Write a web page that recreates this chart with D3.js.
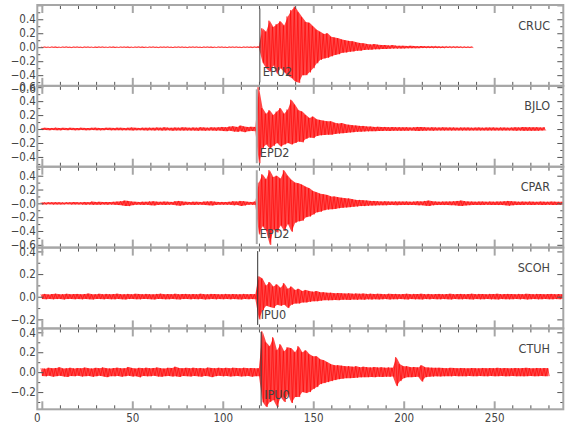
<!DOCTYPE html>
<html><head><meta charset="utf-8">
<script src="https://cdn.jsdelivr.net/npm/d3@7"></script>
<style>
body{margin:0;background:#fff}
text{font-family:"Liberation Sans Narrow","Arial Narrow","DejaVu Sans Condensed",sans-serif;fill:#444}
</style>
</head><body><svg id="c" width="580" height="440"></svg>
<script>
// ---------- data ----------
const stations = ["CRUC","BJLO","CPAR","SCOH","CTUH"];
const phases = ["EPU2","EPD2","EPD2","IPU0","IPU0"];
const pickTimes = [120.5,118.8,118.8,119.3,121.2];
const sampleStep = 2; // seconds between envelope samples (t = 0, 2, 4, ...)
const xDomain = [-2.5, 288.2];
const xTickLabels = [0,50,100,150,200,250];
const yDomains = [[-0.553,0.604],[-0.54,0.619],[-0.64,0.53],[-0.28,0.434],[-0.373,0.439]];
const yTickValues = [[-0.6,-0.4,-0.2,0,0.2,0.4],[-0.4,-0.2,0,0.2,0.4,0.6],[-0.6,-0.4,-0.2,0,0.2,0.4],[-0.2,0,0.2,0.4],[-0.2,0,0.2,0.4]];
const yTickTexts = [["−0.6","−0.4","−0.2","0.0","0.2","0.4"],["−0.4","−0.2","0.0","0.2","0.4","0.6"],["−0.6","−0.4","−0.2","−0.0","0.2","0.4"],["−0.2","0.0","0.2","0.4"],["−0.2","0.0","0.2","0.4"]];

// upper / lower envelopes of each trace, read every 2 s
const crucHi = [
0.004,0.005,0.004,0.006,0.005,0.004,0.005,0.006,0.004,0.005,
0.005,0.004,0.006,0.005,0.004,0.005,0.006,0.005,0.004,0.005,
0.006,0.004,0.005,0.005,0.006,0.004,0.005,0.006,0.005,0.004,
0.005,0.006,0.004,0.005,0.005,0.006,0.004,0.005,0.006,0.005,
0.004,0.005,0.006,0.005,0.004,0.006,0.005,0.005,0.004,0.006,
0.005,0.004,0.006,0.005,0.005,0.004,0.006,0.005,0.005,0.006,
0.01,0.27,0.22,0.38,0.29,0.33,0.37,0.31,0.44,0.53,
0.58,0.5,0.43,0.36,0.35,0.3,0.25,0.22,0.19,0.2,
0.15,0.14,0.13,0.11,0.1,0.09,0.085,0.07,0.06,0.055,
0.045,0.04,0.045,0.035,0.03,0.03,0.025,0.03,0.022,0.02,
0.02,0.018,0.02,0.016,0.015,0.017,0.014,0.013,0.012,0.013,
0.011,0.01,0.011,0.01,0.009,0.009,0.008,0.008,0.007,0.006];
const crucLo = [
-0.004,-0.005,-0.005,-0.004,-0.006,-0.005,-0.004,-0.005,-0.006,-0.004,
-0.005,-0.006,-0.004,-0.005,-0.005,-0.006,-0.004,-0.005,-0.005,-0.004,
-0.006,-0.005,-0.004,-0.005,-0.006,-0.005,-0.004,-0.005,-0.006,-0.005,
-0.004,-0.005,-0.006,-0.004,-0.005,-0.005,-0.006,-0.004,-0.005,-0.005,
-0.006,-0.004,-0.005,-0.005,-0.006,-0.004,-0.005,-0.006,-0.005,-0.004,
-0.005,-0.006,-0.004,-0.005,-0.005,-0.006,-0.004,-0.005,-0.006,-0.005,
-0.01,-0.22,-0.3,-0.35,-0.26,-0.38,-0.3,-0.36,-0.41,-0.44,
-0.49,-0.51,-0.4,-0.4,-0.36,-0.3,-0.23,-0.18,-0.16,-0.15,
-0.13,-0.11,-0.1,-0.08,-0.075,-0.065,-0.06,-0.05,-0.05,-0.04,
-0.035,-0.035,-0.03,-0.03,-0.025,-0.025,-0.022,-0.02,-0.02,-0.018,
-0.017,-0.016,-0.015,-0.015,-0.014,-0.013,-0.012,-0.012,-0.011,-0.011,
-0.01,-0.01,-0.009,-0.009,-0.008,-0.008,-0.007,-0.007,-0.006,-0.006];

const bjloHi = [
0.015,0.018,0.014,0.016,0.02,0.015,0.017,0.014,0.018,0.016,
0.015,0.019,0.016,0.014,0.018,0.02,0.016,0.015,0.019,0.017,
0.016,0.02,0.018,0.015,0.019,0.022,0.017,0.016,0.02,0.018,
0.02,0.018,0.022,0.019,0.025,0.02,0.018,0.022,0.02,0.024,
0.021,0.019,0.023,0.02,0.026,0.022,0.02,0.025,0.021,0.024,
0.03,0.025,0.035,0.04,0.03,0.05,0.035,0.028,0.032,0.03,
0.6,0.3,0.22,0.27,0.2,0.25,0.3,0.22,0.28,0.42,
0.35,0.27,0.25,0.2,0.16,0.18,0.14,0.13,0.12,0.11,
0.11,0.09,0.08,0.085,0.07,0.06,0.055,0.05,0.045,0.045,
0.035,0.035,0.03,0.032,0.028,0.03,0.026,0.028,0.025,0.027,
0.024,0.026,0.023,0.025,0.03,0.028,0.024,0.022,0.025,0.023,
0.022,0.024,0.021,0.023,0.022,0.02,0.023,0.021,0.022,0.02,
0.021,0.023,0.02,0.022,0.021,0.023,0.02,0.022,0.021,0.02,
0.022,0.025,0.023,0.028,0.025,0.027,0.024,0.026,0.022,0.024];
const bjloLo = [
-0.015,-0.014,-0.017,-0.015,-0.016,-0.019,-0.014,-0.016,-0.015,-0.018,
-0.016,-0.015,-0.018,-0.016,-0.015,-0.017,-0.019,-0.016,-0.015,-0.018,
-0.017,-0.016,-0.019,-0.018,-0.016,-0.02,-0.018,-0.017,-0.019,-0.02,
-0.018,-0.021,-0.019,-0.022,-0.02,-0.019,-0.023,-0.02,-0.021,-0.022,
-0.02,-0.022,-0.021,-0.024,-0.02,-0.023,-0.022,-0.021,-0.024,-0.022,
-0.028,-0.03,-0.025,-0.035,-0.04,-0.032,-0.045,-0.03,-0.028,-0.03,
-0.49,-0.27,-0.22,-0.28,-0.24,-0.2,-0.25,-0.22,-0.2,-0.22,
-0.2,-0.18,-0.19,-0.14,-0.12,-0.13,-0.1,-0.09,-0.085,-0.08,
-0.08,-0.07,-0.065,-0.06,-0.055,-0.05,-0.045,-0.04,-0.038,-0.035,
-0.033,-0.03,-0.03,-0.028,-0.027,-0.026,-0.028,-0.025,-0.024,-0.026,
-0.023,-0.025,-0.022,-0.024,-0.027,-0.025,-0.023,-0.022,-0.024,-0.021,
-0.021,-0.022,-0.02,-0.022,-0.021,-0.02,-0.022,-0.02,-0.021,-0.02,
-0.02,-0.021,-0.02,-0.022,-0.02,-0.021,-0.02,-0.021,-0.02,-0.02,
-0.021,-0.024,-0.022,-0.026,-0.024,-0.025,-0.023,-0.024,-0.021,-0.022];

const cparHi = [
0.015,0.014,0.016,0.015,0.017,0.015,0.014,0.016,0.015,0.018,
0.016,0.015,0.02,0.017,0.025,0.02,0.022,0.018,0.02,0.019,
0.022,0.025,0.03,0.04,0.035,0.025,0.022,0.02,0.024,0.022,
0.028,0.03,0.024,0.022,0.025,0.023,0.021,0.03,0.035,0.028,
0.022,0.02,0.024,0.022,0.02,0.025,0.028,0.03,0.024,0.02,
0.021,0.02,0.023,0.03,0.025,0.035,0.03,0.022,0.02,0.025,
0.3,0.42,0.35,0.48,0.38,0.4,0.36,0.48,0.4,0.34,
0.3,0.29,0.27,0.24,0.22,0.18,0.16,0.14,0.13,0.12,
0.1,0.1,0.09,0.08,0.075,0.07,0.06,0.05,0.05,0.045,
0.04,0.035,0.035,0.03,0.028,0.03,0.027,0.025,0.028,0.026,
0.025,0.027,0.024,0.026,0.03,0.028,0.035,0.04,0.03,0.026,
0.024,0.026,0.025,0.028,0.03,0.035,0.04,0.032,0.027,0.025,
0.024,0.026,0.025,0.023,0.025,0.024,0.026,0.025,0.03,0.035,
0.03,0.026,0.024,0.025,0.023,0.025,0.024,0.022,0.025,0.024,
0.023,0.025,0.024,0.022,0.023];
const cparLo = [
-0.015,-0.016,-0.014,-0.017,-0.015,-0.016,-0.015,-0.014,-0.017,-0.015,
-0.016,-0.017,-0.02,-0.018,-0.022,-0.019,-0.021,-0.017,-0.02,-0.018,
-0.02,-0.024,-0.028,-0.038,-0.04,-0.026,-0.021,-0.02,-0.023,-0.021,
-0.026,-0.03,-0.023,-0.021,-0.024,-0.022,-0.02,-0.028,-0.035,-0.027,
-0.021,-0.02,-0.023,-0.021,-0.02,-0.024,-0.027,-0.03,-0.023,-0.02,
-0.02,-0.021,-0.022,-0.028,-0.024,-0.038,-0.03,-0.021,-0.02,-0.024,
-0.45,-0.33,-0.4,-0.6,-0.38,-0.42,-0.32,-0.4,-0.3,-0.41,
-0.28,-0.26,-0.25,-0.2,-0.19,-0.16,-0.13,-0.12,-0.1,-0.09,
-0.085,-0.08,-0.07,-0.065,-0.06,-0.055,-0.05,-0.045,-0.04,-0.04,
-0.035,-0.032,-0.03,-0.028,-0.027,-0.028,-0.025,-0.024,-0.026,-0.025,
-0.024,-0.025,-0.023,-0.025,-0.028,-0.027,-0.033,-0.038,-0.028,-0.025,
-0.023,-0.025,-0.024,-0.026,-0.028,-0.033,-0.038,-0.03,-0.026,-0.024,
-0.023,-0.025,-0.024,-0.022,-0.024,-0.023,-0.025,-0.024,-0.028,-0.033,
-0.028,-0.025,-0.023,-0.024,-0.022,-0.024,-0.023,-0.021,-0.024,-0.023,
-0.022,-0.024,-0.023,-0.021,-0.022];

const scohHi = [
0.022,0.025,0.02,0.024,0.027,0.021,0.023,0.026,0.022,0.024,
0.025,0.021,0.024,0.028,0.022,0.023,0.026,0.021,0.025,0.023,
0.024,0.027,0.022,0.023,0.025,0.021,0.026,0.024,0.022,0.025,
0.023,0.021,0.025,0.027,0.022,0.024,0.023,0.026,0.021,0.024,
0.025,0.022,0.024,0.021,0.026,0.023,0.022,0.025,0.024,0.021,
0.023,0.025,0.022,0.024,0.021,0.023,0.025,0.022,0.024,0.023,
0.18,0.16,0.1,0.13,0.09,0.11,0.08,0.12,0.07,0.09,
0.06,0.07,0.05,0.06,0.05,0.045,0.05,0.04,0.04,0.035,
0.035,0.03,0.033,0.03,0.028,0.03,0.027,0.029,0.026,0.028,
0.025,0.027,0.024,0.026,0.025,0.023,0.026,0.024,0.025,0.023,
0.024,0.026,0.023,0.025,0.024,0.026,0.023,0.025,0.022,0.024,
0.025,0.023,0.024,0.026,0.022,0.024,0.025,0.023,0.024,0.026,
0.023,0.025,0.024,0.022,0.025,0.024,0.026,0.023,0.024,0.025,
0.024,0.022,0.025,0.023,0.026,0.024,0.023,0.025,0.024,0.022,
0.024,0.025,0.023,0.024,0.022];
const scohLo = [
-0.02,-0.022,-0.019,-0.023,-0.021,-0.02,-0.024,-0.021,-0.019,-0.022,
-0.021,-0.023,-0.02,-0.022,-0.024,-0.02,-0.021,-0.023,-0.019,-0.022,
-0.023,-0.02,-0.022,-0.024,-0.021,-0.02,-0.022,-0.023,-0.02,-0.021,
-0.022,-0.024,-0.02,-0.021,-0.023,-0.022,-0.019,-0.022,-0.024,-0.021,
-0.02,-0.023,-0.021,-0.022,-0.02,-0.024,-0.022,-0.02,-0.023,-0.021,
-0.022,-0.02,-0.023,-0.021,-0.022,-0.024,-0.02,-0.022,-0.021,-0.023,
-0.2,-0.12,-0.08,-0.09,-0.1,-0.07,-0.08,-0.07,-0.1,-0.07,
-0.06,-0.06,-0.05,-0.05,-0.045,-0.04,-0.04,-0.035,-0.03,-0.032,
-0.03,-0.028,-0.03,-0.027,-0.026,-0.028,-0.025,-0.027,-0.024,-0.026,
-0.023,-0.025,-0.022,-0.024,-0.023,-0.021,-0.024,-0.022,-0.023,-0.021,
-0.022,-0.024,-0.021,-0.023,-0.022,-0.024,-0.021,-0.023,-0.02,-0.022,
-0.023,-0.021,-0.022,-0.024,-0.02,-0.022,-0.023,-0.021,-0.022,-0.024,
-0.021,-0.023,-0.022,-0.02,-0.023,-0.022,-0.024,-0.021,-0.022,-0.023,
-0.022,-0.02,-0.023,-0.021,-0.024,-0.022,-0.021,-0.023,-0.022,-0.02,
-0.022,-0.023,-0.021,-0.022,-0.02];

const ctuhHi = [
0.04,0.035,0.045,0.038,0.042,0.05,0.036,0.04,0.044,0.037,
0.042,0.038,0.046,0.04,0.036,0.043,0.039,0.048,0.04,0.037,
0.041,0.045,0.038,0.04,0.052,0.042,0.037,0.043,0.04,0.045,
0.038,0.042,0.047,0.04,0.036,0.044,0.041,0.055,0.042,0.039,
0.043,0.038,0.045,0.04,0.042,0.037,0.046,0.041,0.039,0.044,
0.04,0.043,0.038,0.045,0.041,0.039,0.044,0.04,0.042,0.038,
0.04,0.41,0.3,0.26,0.35,0.22,0.28,0.21,0.25,0.24,
0.2,0.26,0.2,0.22,0.18,0.16,0.16,0.13,0.12,0.1,
0.08,0.07,0.07,0.065,0.06,0.06,0.055,0.06,0.05,0.055,
0.05,0.048,0.052,0.046,0.05,0.045,0.048,0.044,0.15,0.08,
0.06,0.06,0.05,0.052,0.048,0.07,0.05,0.046,0.045,0.043,
0.044,0.042,0.04,0.043,0.041,0.039,0.042,0.04,0.038,0.041,
0.04,0.038,0.042,0.039,0.041,0.04,0.043,0.039,0.041,0.038,
0.04,0.042,0.039,0.041,0.043,0.04,0.038,0.042,0.04,0.041,
0.039];
const ctuhLo = [
-0.038,-0.042,-0.036,-0.045,-0.04,-0.037,-0.043,-0.048,-0.039,-0.041,
-0.036,-0.044,-0.04,-0.038,-0.047,-0.041,-0.037,-0.043,-0.05,-0.04,
-0.042,-0.038,-0.045,-0.041,-0.037,-0.044,-0.04,-0.052,-0.039,-0.042,
-0.041,-0.037,-0.043,-0.046,-0.04,-0.038,-0.044,-0.041,-0.048,-0.039,
-0.04,-0.044,-0.038,-0.042,-0.045,-0.039,-0.041,-0.05,-0.04,-0.037,
-0.042,-0.039,-0.044,-0.04,-0.038,-0.043,-0.041,-0.039,-0.045,-0.04,
-0.04,-0.3,-0.35,-0.3,-0.28,-0.35,-0.25,-0.3,-0.22,-0.31,
-0.25,-0.25,-0.2,-0.21,-0.2,-0.17,-0.15,-0.12,-0.11,-0.1,
-0.09,-0.08,-0.07,-0.065,-0.06,-0.06,-0.058,-0.055,-0.052,-0.05,
-0.05,-0.048,-0.05,-0.046,-0.048,-0.045,-0.047,-0.044,-0.14,-0.09,
-0.06,-0.05,-0.05,-0.048,-0.046,-0.095,-0.05,-0.045,-0.044,-0.042,
-0.043,-0.041,-0.04,-0.042,-0.039,-0.041,-0.04,-0.042,-0.038,-0.04,
-0.041,-0.039,-0.04,-0.042,-0.038,-0.041,-0.04,-0.039,-0.042,-0.04,
-0.039,-0.041,-0.04,-0.042,-0.04,-0.038,-0.041,-0.04,-0.039,-0.04,
-0.04];

// ---------- drawing ----------
const traces = [[crucHi,crucLo],[bjloHi,bjloLo],[cparHi,cparLo],[scohHi,scohLo],[ctuhHi,ctuhLo]];
const L = 37.3, R = 563.3, T0 = 5, PH = 80.86;
const pickStyle = [{c:"#444",w:1},{c:"#aaa",w:2},{c:"#aaa",w:2},{c:"#333",w:1},{c:"#333",w:1}];
const frameColor = "#a6a6a6";
const svg = d3.select("#c");
const x = d3.scaleLinear().domain(xDomain).range([L, R]);
const minorX = d3.range(0, 290, 10).filter(v => v % 50 !== 0);
const majorX = d3.range(0, 290, 50);

function styleTicks(sel, color, width) {
  sel.select(".domain").remove();
  sel.selectAll(".tick line").attr("stroke", color).attr("stroke-width", width);
  sel.selectAll(".tick text").remove();
}

stations.forEach((name, k) => {
  const y0 = T0 + k * PH, y1 = y0 + PH;
  const y = d3.scaleLinear().domain(yDomains[k]).range([y1, y0]);
  const g = svg.append("g");
  const cid = "clip" + k;
  svg.append("clipPath").attr("id", cid).append("rect")
    .attr("x", L).attr("y", y0).attr("width", R - L).attr("height", PH);

  const [hi, lo] = traces[k];
  const samples = hi.map((h, i) => ({ t: i * sampleStep, hi: h, lo: lo[i] }));
  const tg = g.append("g").attr("clip-path", `url(#${cid})`);

  const px = x(pickTimes[k]);
  const pick = () => g.append("line").attr("x1", px).attr("x2", px)
      .attr("y1", y0 + 3.5).attr("y2", y1 - 3.5)
      .attr("stroke", pickStyle[k].c).attr("stroke-width", pickStyle[k].w);
  if (pickStyle[k].w > 1) pick();

  tg.append("path").datum(samples)
    .attr("d", d3.area().x(d => x(d.t)).y0(d => y(d.lo)).y1(d => y(d.hi)))
    .attr("fill", "#ff0000").attr("fill-opacity", 0.72);
  const zz = samples.flatMap(d => [[d.t - 0.5, d.hi], [d.t + 0.5, d.lo]]);
  tg.append("path").datum(zz)
    .attr("d", d3.line().x(p => x(p[0])).y(p => y(p[1])))
    .attr("fill", "none").attr("stroke", "#ff0000").attr("stroke-width", 0.6);

  if (pickStyle[k].w === 1) pick();
  g.append("text").attr("x", px + 3).attr("y", y0 + 71)
    .attr("font-size", 12.5).text(phases[k]);

  g.append("text").attr("x", 550).attr("y", y0 + 24.5).attr("text-anchor", "end")
    .attr("font-size", 12.5).text(name);

  const yMinor = d3.range(-0.6, 0.65, 0.1).map(v => Math.round(v * 10) / 10)
    .filter(v => Math.round(v * 10) % 2 !== 0 && v >= yDomains[k][0] && v <= yDomains[k][1]);
  const yMajor = d3.range(-0.6, 0.65, 0.2).map(v => Math.round(v * 10) / 10)
    .filter(v => v >= yDomains[k][0] && v <= yDomains[k][1]);
  g.append("g").attr("transform", `translate(${L},0)`)
    .call(d3.axisRight(y).tickValues(yMinor).tickSize(3)).call(s => styleTicks(s, "#555", 1));
  g.append("g").attr("transform", `translate(${L},0)`)
    .call(d3.axisRight(y).tickValues(yMajor).tickSize(6)).call(s => styleTicks(s, "#555", 1));
  g.append("g").attr("transform", `translate(${R},0)`)
    .call(d3.axisLeft(y).tickValues(yMinor).tickSize(3)).call(s => styleTicks(s, "#555", 1));
  g.append("g").attr("transform", `translate(${R},0)`)
    .call(d3.axisLeft(y).tickValues(yMajor).tickSize(6)).call(s => styleTicks(s, "#555", 1));

  const ya = g.append("g").attr("transform", `translate(${L},0)`)
    .call(d3.axisLeft(y).tickValues(yTickValues[k]).tickSize(0).tickPadding(1.5)
      .tickFormat((v, i) => yTickTexts[k][i]));
  ya.select(".domain").remove();
  ya.selectAll("text").attr("font-size", 11.5).attr("font-family", null).attr("fill", "#444");

  g.append("g").attr("transform", `translate(0,${y0})`)
    .call(d3.axisBottom(x).tickValues(minorX).tickSize(4)).call(s => styleTicks(s, "#555", 1));
  g.append("g").attr("transform", `translate(0,${y0})`)
    .call(d3.axisBottom(x).tickValues(majorX).tickSize(8)).call(s => styleTicks(s, frameColor, 2));
  g.append("g").attr("transform", `translate(0,${y1})`)
    .call(d3.axisTop(x).tickValues(minorX).tickSize(4)).call(s => styleTicks(s, "#555", 1));
  g.append("g").attr("transform", `translate(0,${y1})`)
    .call(d3.axisTop(x).tickValues(majorX).tickSize(8)).call(s => styleTicks(s, frameColor, 2));

  g.append("rect").attr("x", L).attr("y", y0).attr("width", R - L).attr("height", PH)
    .attr("fill", "none").attr("stroke", frameColor).attr("stroke-width", 2);
});

const xa = svg.append("g").attr("transform", `translate(0,${T0 + 5 * PH})`)
  .call(d3.axisBottom(x).tickValues(xTickLabels).tickSize(0).tickPadding(4.5).tickFormat(d3.format("d")));
xa.select(".domain").remove();
xa.selectAll("text").attr("font-size", 11.5).attr("font-family", null).attr("fill", "#444")
  .attr("dx", d => d === 0 ? -5 : 0);
</script>
</body></html>
